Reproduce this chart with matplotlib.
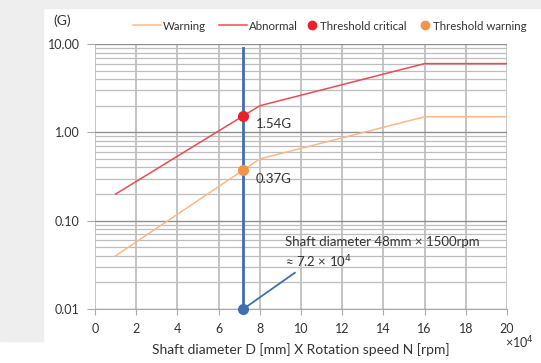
import matplotlib
matplotlib.use("Agg")
import matplotlib.pyplot as plt
from matplotlib.patches import Rectangle
from matplotlib.lines import Line2D
from matplotlib.ticker import FixedLocator, LogLocator, NullFormatter

plt.rcParams['font.family'] = ['Lato', 'DejaVu Sans']

# data
x_knots = [1, 8, 16, 20]
warning = [0.04, 0.5, 1.5, 1.5]
abnormal = [0.2, 2.0, 6.0, 6.0]
x_shaft = 7.2
thr_critical = 1.54
thr_warning = 0.37
x_ticks = [0, 2, 4, 6, 8, 10, 12, 14, 16, 18, 20]
y_ticks = [0.01, 0.1, 1, 10]
y_labels = ["0.01", "0.10", "1.00", "10.00"]

text_c = "#333333"

fig = plt.figure(figsize=(5.41, 3.63), dpi=100)
# gray frame around the white panel
fig.patches.append(Rectangle((0, 1 - 8 / 363), 1, 8 / 363, transform=fig.transFigure,
                             color="#eeeeee", zorder=0))
fig.patches.append(Rectangle((0, 22 / 363), 43 / 541, 1 - 30 / 363, transform=fig.transFigure,
                             color="#eeeeee", zorder=0))

ax = fig.add_axes([95 / 541, 1 - 309 / 363, 412 / 541, 265 / 363])
ax.set_yscale("log")
ax.set_xlim(0, 20)
ax.set_ylim(0.01, 10)

ax.xaxis.set_major_locator(FixedLocator(x_ticks))
ax.yaxis.set_major_locator(FixedLocator(y_ticks))
ax.set_yticklabels(y_labels)
ax.yaxis.set_minor_locator(LogLocator(base=10, subs=range(2, 10)))
ax.yaxis.set_minor_formatter(NullFormatter())

ax.grid(True, which="major", axis="x", color="#c4c4c4", lw=1.4)
ax.grid(True, which="major", axis="y", color="#8f8f8f", lw=1.0)
ax.grid(True, which="minor", axis="y", color="#bdbdbd", lw=0.9)
for s in ["top", "right", "left"]:
    ax.spines[s].set_visible(False)
ax.spines["bottom"].set_color("#aaaaaa")
ax.tick_params(axis="x", length=4, color="#aaaaaa", labelsize=9, labelcolor=text_c, pad=6)
ax.tick_params(axis="y", which="major", length=6, color="#aaaaaa", labelsize=9, labelcolor=text_c, pad=5)
ax.tick_params(axis="y", which="minor", length=0)

ax.plot(x_knots, warning, color="#f9b98a", lw=1.1, zorder=3)
ax.plot(x_knots, abnormal, color="#ec4b55", lw=1.1, zorder=3)

ax.plot([x_shaft, x_shaft], [0.01, 9.0], color="#3f6fb0", lw=2, zorder=4)
ax.plot([x_shaft, 9.7], [0.01, 0.0257], color="#3f6fb0", lw=1.3, zorder=4)
ax.plot(x_shaft, 0.01, "o", color="#3f6fb0", ms=7, zorder=5, clip_on=False)
ax.plot(x_shaft, thr_critical, "o", color="#e8212b", ms=7, zorder=5)
ax.plot(x_shaft, thr_warning, "o", color="#f4934a", ms=7, zorder=5)

ax.text(7.8, thr_critical * 0.8, f"{thr_critical:.2f}G", fontsize=9.5, color=text_c, va="center")
ax.text(7.8, thr_warning * 0.8, f"{thr_warning:.2f}G", fontsize=9.5, color=text_c, va="center")
ax.text(9.2, 0.058, "Shaft diameter 48mm \u00d7 1500rpm", fontsize=9.5, color=text_c, va="center")
ax.text(9.2, 0.034, "\u2248 7.2 \u00d7 10$^4$", fontsize=9.5, color=text_c, va="center")

ax.set_xlabel("Shaft diameter D [mm] X Rotation speed N [rpm]", fontsize=10, color=text_c, labelpad=6)
fig.text(505 / 541, 1 - 343 / 363, "\u00d710$^4$", fontsize=9, color=text_c, va="center")
fig.text(53 / 541, 1 - 21 / 363, "(G)", fontsize=10, color=text_c, va="center")

line_handles = [
    Line2D([], [], color="#f9b98a", lw=1.1),
    Line2D([], [], color="#ec4b55", lw=1.1),
]
dot_handles = [
    Line2D([], [], marker="o", ls="", color="#e8212b", ms=6),
    Line2D([], [], marker="o", ls="", color="#f4934a", ms=6),
]
leg1 = fig.legend(line_handles, ["Warning", "Abnormal"],
                  loc="center left", bbox_to_anchor=(133 / 541, 1 - 26 / 363), ncol=2, frameon=False,
                  fontsize=8.3, handlelength=2.43, handletextpad=0.12, columnspacing=1.2,
                  labelcolor=text_c, borderaxespad=0, borderpad=0)
leg2 = fig.legend(dot_handles, ["Threshold critical", "Threshold warning"],
                  loc="center left", bbox_to_anchor=(307.5 / 541, 1 - 26 / 363), ncol=2, frameon=False,
                  fontsize=8.3, handlelength=0.8, handletextpad=0.3, columnspacing=1.15,
                  labelcolor=text_c, borderaxespad=0, borderpad=0)

fig.savefig("out.png", dpi=100, facecolor="white")
